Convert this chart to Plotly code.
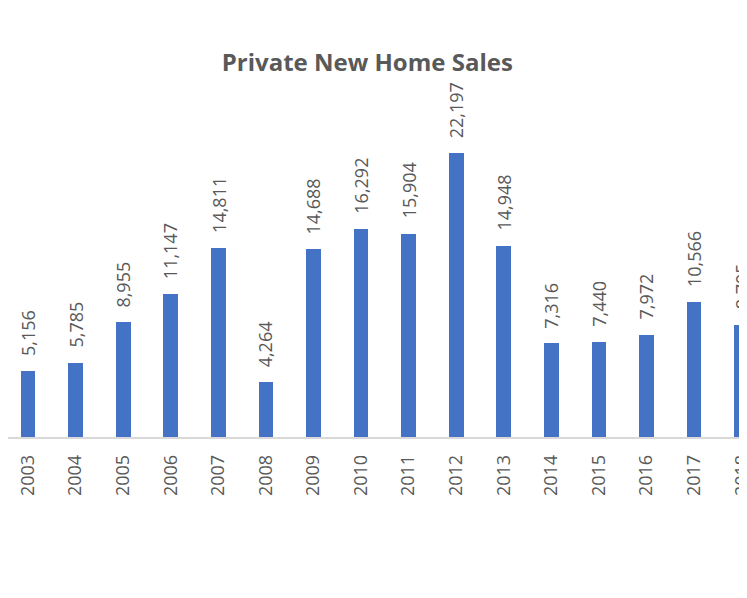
import plotly.graph_objects as go

years = ["2003", "2004", "2005", "2006", "2007", "2008", "2009", "2010",
         "2011", "2012", "2013", "2014", "2015", "2016", "2017", "2018"]
sales = [5156, 5785, 8955, 11147, 14811, 4264, 14688, 16292,
         15904, 22197, 14948, 7316, 7440, 7972, 10566, 8795]
labels = [f"{v:,}" for v in sales]

grey = "#595959"
font_name = "Open Sans, sans-serif"

fig = go.Figure()
fig.add_trace(go.Bar(
    x=years, y=sales,
    width=0.31,
    marker=dict(color="#4472c4", line=dict(width=0)),
    cliponaxis=False,
))

# value labels above the bars, rotated like the excel chart
# (category axis -> position by index, "2003" would be read as an index)
for i, (v, lab) in enumerate(zip(sales, labels)):
    fig.add_annotation(
        x=i, y=v, text=lab, showarrow=False, textangle=-90,
        xanchor="center", yanchor="bottom", yshift=13,
        font=dict(family=font_name, size=18, color=grey),
    )

# page body has an 8px margin, so everything is moved up/left by 8px
fig.update_layout(
    width=747, height=590,
    margin=dict(l=0, r=0, t=92, b=161, autoexpand=False),
    paper_bgcolor="white", plot_bgcolor="white",
    showlegend=False,
    bargap=0,
    title=dict(text="<b>Private New Home Sales</b>", x=0.481, xanchor="center",
               y=0.908, yanchor="middle",
               font=dict(family=font_name, size=24, color=grey)),
)
fig.update_xaxes(
    type="category", range=[-0.42, 15.28], automargin=False,
    showline=True, linecolor="#d9d9d9", linewidth=1.5,
    tickangle=-90, ticks="", ticklabelstandoff=9,
    tickfont=dict(family=font_name, size=18, color=grey),
    showgrid=False,
)
fig.update_yaxes(range=[0, 26350], visible=False, showgrid=False, automargin=False)

fig.write_html("out.html")
